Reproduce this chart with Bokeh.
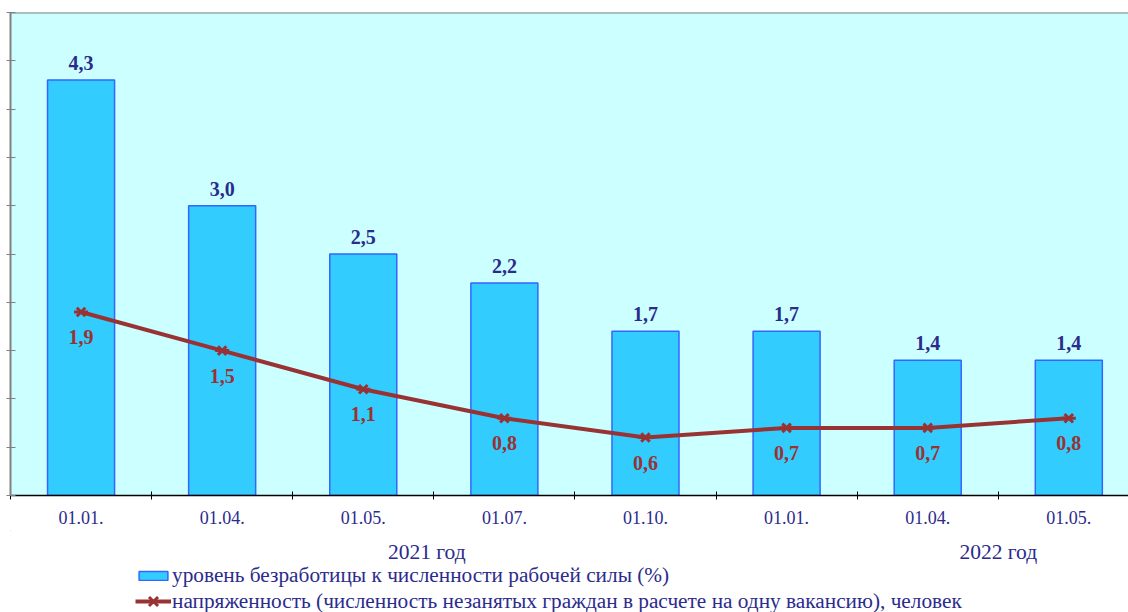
from bokeh.plotting import figure
from bokeh.layouts import column
from bokeh.models import (ColumnDataSource, FixedTicker, LabelSet, Legend,
                          LegendItem, Range1d, Span)
from bokeh.core.properties import value
from bokeh.embed import file_html
from bokeh.resources import INLINE

dates = ["01.01.", "01.04.", "01.05.", "01.07.", "01.10.", "01.01.", "01.04.", "01.05."]
unemployment = [4.3, 3.0, 2.5, 2.2, 1.7, 1.7, 1.4, 1.4]
tension = [1.9, 1.5, 1.1, 0.8, 0.6, 0.7, 0.7, 0.8]
years = ["2021 год", "2022 год"]
year_pos = [2.45, 6.5]
legend_labels = ["уровень безработицы к численности рабочей силы (%)",
                 "напряженность (численность незанятых граждан в расчете на одну вакансию), человек"]

xs = list(range(len(dates)))
src = ColumnDataSource(dict(
    x=xs, u=unemployment, t=tension,
    ul=[f"{v:.1f}".replace(".", ",") for v in unemployment],
    tl=[f"{v:.1f}".replace(".", ",") for v in tension],
))

SERIF = "Liberation Serif"
NAVY = "#2B2B8C"
MAROON = "#993333"
BAR_FILL = "#33CCFF"
BAR_LINE = "#3366FF"

xr = Range1d(-0.5, 7.423)
p = figure(width=1128, height=530, output_backend="svg", toolbar_location=None,
           x_range=xr, y_range=Range1d(0, 5),
           min_border_left=10, min_border_top=12, min_border_right=0, min_border_bottom=35)
p.background_fill_color = "#CCFFFF"
p.border_fill_color = "white"
p.outline_line_color = None
p.xgrid.grid_line_color = None
p.ygrid.grid_line_color = None

bars = p.vbar(x="x", top="u", width=0.475, source=src, fill_color=BAR_FILL,
              line_color=BAR_LINE, line_width=1.5)
line = p.line(x="x", y="t", source=src, line_color=MAROON, line_width=4)
sx = p.scatter(x="x", y="t", source=src, marker="x", size=12,
               line_color=MAROON, line_width=3)
sd = p.scatter(x="x", y="t", source=src, marker="dash", size=14,
               line_color=MAROON, line_width=3)

p.add_layout(LabelSet(x="x", y="u", text="ul", source=src, y_offset=17,
                      text_align="center", text_baseline="middle",
                      text_font=SERIF, text_font_style="bold", text_font_size="20px",
                      text_color=NAVY))
p.add_layout(LabelSet(x="x", y="t", text="tl", source=src, y_offset=-25,
                      text_align="center", text_baseline="middle",
                      text_font=SERIF, text_font_style="bold", text_font_size="20px",
                      text_color=MAROON))

p.add_layout(Span(location=5, dimension="width", line_color="#808080", line_width=2))

# y axis (no labels)
yt = [i * 0.5 for i in range(11)]
p.yaxis.ticker = FixedTicker(ticks=yt)
p.yaxis.major_label_overrides = {t: "" for t in yt}
p.yaxis.major_label_standoff = 0
p.yaxis.major_tick_in = 5
p.yaxis.major_tick_out = 4
p.yaxis.minor_tick_line_color = None
p.yaxis.axis_line_color = "#808080"
p.yaxis.axis_line_width = 2
p.yaxis.major_tick_line_color = "#808080"

# x axis
p.xaxis.ticker = FixedTicker(ticks=xs, minor_ticks=[i - 0.5 for i in range(9)])
p.xaxis.major_label_overrides = {i: d for i, d in enumerate(dates)}
p.xaxis.major_tick_in = 0
p.xaxis.major_tick_out = 0
p.xaxis.minor_tick_in = 4
p.xaxis.minor_tick_out = 4
p.xaxis.minor_tick_line_color = "black"
p.xaxis.axis_line_color = "black"
p.xaxis.axis_line_width = 1.5
p.xaxis.major_label_standoff = 11
p.xaxis.major_label_text_font = SERIF
p.xaxis.major_label_text_font_size = "18px"
p.xaxis.major_label_text_color = NAVY

# lower panel: year captions and legend
p2 = figure(width=1128, height=82, output_backend="svg", toolbar_location=None,
            x_range=xr, y_range=Range1d(82, 0),
            min_border_left=10, min_border_top=0, min_border_right=0, min_border_bottom=0)
p2.axis.visible = False
p2.grid.visible = False
p2.outline_line_color = None
p2.background_fill_color = "white"
p2.border_fill_color = "white"

ysrc = ColumnDataSource(dict(x=year_pos, y=[21] * len(years), t=years))
p2.text(x="x", y="y", text="t", source=ysrc, text_align="center", text_baseline="middle",
        text_font=value(SERIF), text_font_size="21.5px", text_color=NAVY)

# legend-only renderers (their data lie outside the visible range)
offscreen = ColumnDataSource(dict(x=[-20], y=[-20], top=[-20]))
lb = p2.vbar(x="x", top="top", width=0.5, source=offscreen, fill_color=BAR_FILL,
             line_color=BAR_LINE, line_width=1.5)
ll = p2.line(x="x", y="y", source=offscreen, line_color=MAROON, line_width=4)
lx = p2.scatter(x="x", y="y", source=offscreen, marker="x", size=12,
                line_color=MAROON, line_width=3)
ld = p2.scatter(x="x", y="y", source=offscreen, marker="dash", size=14,
                line_color=MAROON, line_width=3)

common = dict(orientation="vertical", label_text_font=SERIF, label_text_font_size="21.3px",
              label_text_color=NAVY, glyph_width=36, spacing=0, padding=0, margin=0,
              label_standoff=1, border_line_color=None, background_fill_alpha=0)
legend1 = Legend(items=[LegendItem(label=legend_labels[0], renderers=[lb])],
                 location=(125, 24), glyph_height=11, label_height=22, **common)
legend2 = Legend(items=[LegendItem(label=legend_labels[1], renderers=[ll, lx, ld])],
                 location=(125, -5), glyph_height=32, label_height=32, **common)
p2.add_layout(legend1, "center")
p2.add_layout(legend2, "center")

open("out.html", "w").write(file_html(column(p, p2, spacing=0), INLINE))
